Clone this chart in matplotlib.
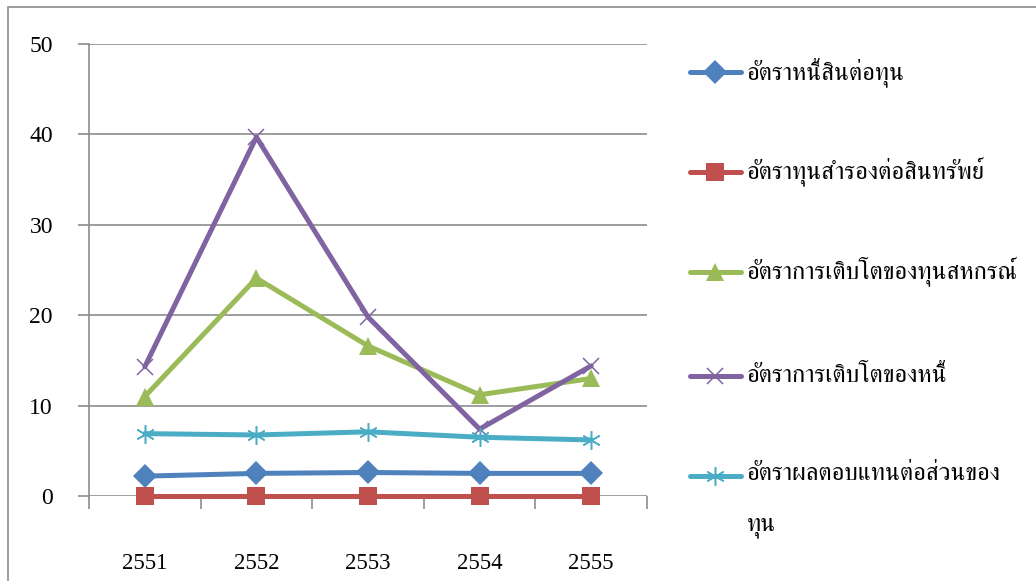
import matplotlib
matplotlib.use("Agg")
import matplotlib.pyplot as plt
from matplotlib import font_manager
from matplotlib.lines import Line2D
from matplotlib.patches import Rectangle

# ---- data ----
years = ["2551", "2552", "2553", "2554", "2555"]
debt_to_equity = [2.2, 2.5, 2.6, 2.5, 2.5]
reserve_to_assets = [0.0, 0.0, 0.0, 0.0, 0.0]
equity_growth = [11.0, 24.1, 16.6, 11.2, 13.0]
debt_growth = [14.3, 39.7, 19.8, 7.4, 14.4]
return_on_equity = [6.9, 6.75, 7.1, 6.5, 6.2]

series_labels = [
    "อัตราหนี้สินต่อทุน",
    "อัตราทุนสำรองต่อสินทรัพย์",
    "อัตราการเติบโตของทุนสหกรณ์",
    "อัตราการเติบโตของหนี้",
    "อัตราผลตอบแทนต่อส่วนของ\nทุน",
]
y_ticks = [0, 10, 20, 30, 40, 50]

# ---- fonts ----
available = {f.name for f in font_manager.fontManager.ttflist}
thai_family = [n for n in ["FreeSerif", "Loma", "Taviraj"] if n in available] + ["DejaVu Sans"]
num_font = "Liberation Serif"

W, H = 1036, 581
fig = plt.figure(figsize=(W / 100, H / 100), dpi=100)

def fx(px):
    return px / W

def fy(py):
    return 1 - py / H

# outer chart border
fig.patches.append(Rectangle((fx(8), fy(640)), fx(1100), fy(7) - fy(640),
                             transform=fig.transFigure, fill=False,
                             edgecolor="#8c8c8c", linewidth=1.2))

ax = fig.add_axes([fx(89), fy(496), fx(647) - fx(89), fy(44) - fy(496)])
ax.set_xlim(-0.5, len(years) - 0.5)
ax.set_ylim(0, 50)

styles = [
    dict(color="#4F81BD", marker="D", markersize=12, markeredgewidth=0),
    dict(color="#C0504D", marker="s", markersize=13, markeredgewidth=0),
    dict(color="#9BBB59", marker="^", markersize=13, markeredgewidth=0),
    dict(color="#8064A2", marker="x", markersize=12, markeredgewidth=1.1),
    dict(color="#4BACC6", marker=(6, 2, 0), markersize=13.5, markeredgewidth=1.1),
]
values = [debt_to_equity, reserve_to_assets, equity_growth, debt_growth, return_on_equity]
order = [0, 1, 2, 4, 3]
xs = list(range(len(years)))
for i in order:
    ax.plot(xs, values[i], linewidth=3.6, solid_capstyle="round",
            solid_joinstyle="round", zorder=3 + i, clip_on=False, **styles[i])

# axes styling
for s in ["top", "right", "bottom"]:
    ax.spines[s].set_visible(False)
ax.spines["left"].set_color("#8c8c8c")
ax.spines["left"].set_linewidth(1.2)
ax.set_yticks(y_ticks)
ax.set_yticklabels([str(v) for v in y_ticks], fontfamily=num_font, fontsize=17)
ax.tick_params(axis="y", direction="out", length=8, width=1.2, color="#8c8c8c",
               pad=18)
ax.grid(axis="y", color="#8c8c8c", linewidth=1.2)
ax.set_axisbelow(True)

ax.set_xticks([x - 0.5 for x in xs] + [len(years) - 0.5])
ax.set_xticklabels([])
ax.tick_params(axis="x", which="major", direction="out", length=9, width=1.2,
               color="#8c8c8c")
ax.set_xticks(xs, minor=True)
ax.set_xticklabels(years, minor=True, fontfamily=num_font, fontsize=16.5)
ax.tick_params(axis="x", which="minor", length=0, pad=41)

# legend
legend_y = [72, 172, 272, 376, 476]
for i, yy in enumerate(legend_y):
    st = styles[i]
    fig.add_artist(Line2D([fx(690), fx(741)], [fy(yy), fy(yy)],
                          transform=fig.transFigure, linewidth=3.6,
                          solid_capstyle="round", color=st["color"]))
    fig.add_artist(Line2D([fx(715)], [fy(yy)], transform=fig.transFigure,
                          linestyle="none", **st))
    multi = "\n" in series_labels[i]
    fig.text(fx(747), fy(yy - 14) if multi else fy(yy), series_labels[i],
             family=thai_family, fontsize=17.7,
             va="top" if multi else "center", ha="left", color="black",
             linespacing=2.45)

fig.savefig("out.png", dpi=100)
